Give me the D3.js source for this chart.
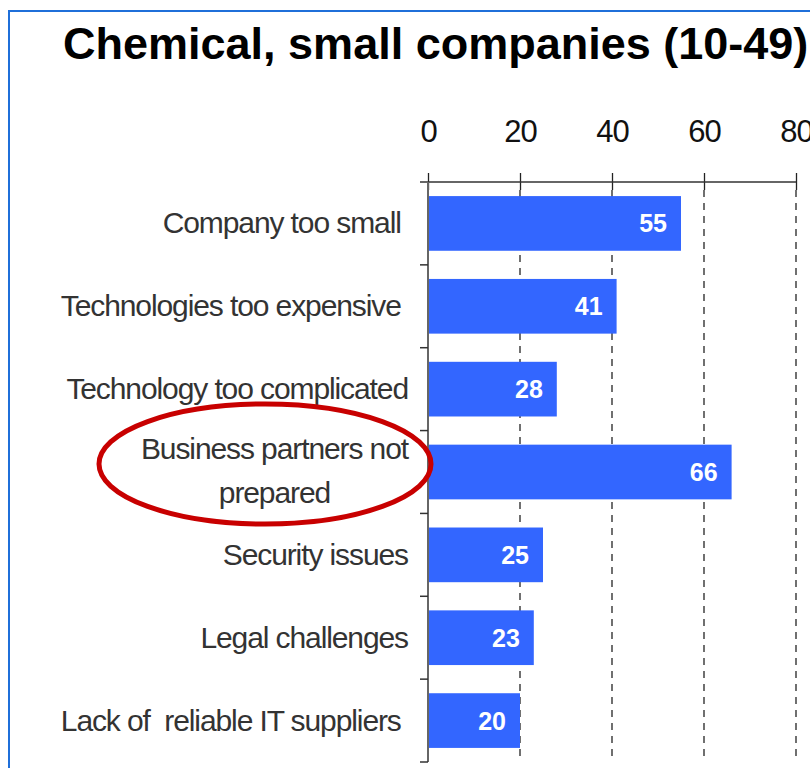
<!DOCTYPE html>
<html>
<head>
<meta charset="utf-8">
<script src="https://cdn.jsdelivr.net/npm/d3@7/dist/d3.min.js"></script>
<style>
  html, body { margin: 0; padding: 0; background: #fff; overflow: hidden; }
  svg { display: block; }
</style>
</head>
<body>
<script>
// Obstacles reported by small chemical companies (10-49 employees), % of firms
const categories = [
  "Company too small",
  "Technologies too expensive",
  "Technology too complicated",
  "Business partners not prepared",
  "Security issues",
  "Legal challenges",
  "Lack of reliable IT suppliers"
];
const labelLines = [
  ["Company too small\u00a0"],
  ["Technologies too expensive\u00a0"],
  ["Technology too complicated"],
  ["Business partners not", "prepared"],
  ["Security issues"],
  ["Legal challenges"],
  ["Lack of\u00a0 reliable IT suppliers\u00a0"]
];
const values = [55, 41, 28, 66, 25, 23, 20];
const tickValues = [0, 20, 40, 60, 80];
const highlighted = "Business partners not prepared";
const titleText = "Chemical, small companies (10-49)";

const W = 810, H = 768;
const FONT = "'Liberation Sans', Arial, sans-serif";
const svg = d3.select("body").append("svg").attr("width", W).attr("height", H);

// outer frame
svg.append("rect")
  .attr("x", 9).attr("y", 11).attr("width", 900).attr("height", 900)
  .attr("fill", "none").attr("stroke", "#1f6fd9").attr("stroke-width", 2);

// title
svg.append("text")
  .attr("x", 63).attr("y", 59)
  .attr("font-family", FONT)
  .attr("font-weight", "bold").attr("font-size", 45)
  .attr("fill", "#000")
  .text(titleText);

const x = d3.scaleLinear().domain([0, 80]).range([428, 796]);
const y = d3.scaleBand().domain(categories).range([182, 762])
  .paddingInner(0.34).paddingOuter(0.17);

// dashed gridlines
svg.append("g").selectAll("line")
  .data(tickValues.filter(d => d > 0))
  .join("line")
  .attr("x1", d => x(d)).attr("x2", d => x(d))
  .attr("y1", 190).attr("y2", 760)
  .attr("stroke", "#111").attr("stroke-width", 1.2)
  .attr("stroke-dasharray", "7,6");

// bars
svg.append("g").selectAll("rect")
  .data(categories)
  .join("rect")
  .attr("x", x(0))
  .attr("y", d => y(d))
  .attr("width", (d, i) => x(values[i]) - x(0))
  .attr("height", y.bandwidth())
  .attr("fill", "#3366ff");

// value labels
svg.append("g").selectAll("text")
  .data(categories)
  .join("text")
  .attr("x", (d, i) => x(values[i]) - 14)
  .attr("y", d => y(d) + y.bandwidth() / 2 + 9)
  .attr("text-anchor", "end")
  .attr("font-family", FONT)
  .attr("font-weight", "bold").attr("font-size", 25)
  .attr("fill", "#fff")
  .text((d, i) => values[i]);

// top axis
const xAxis = d3.axisTop(x).tickValues(tickValues).tickSize(9).tickPadding(0);
const gx = svg.append("g").attr("transform", "translate(0,182)").call(xAxis);
gx.select(".domain").remove();
gx.selectAll(".tick line").attr("y2", -9).attr("y1", 8).attr("stroke", "#222").attr("stroke-width", 1.3);
gx.selectAll(".tick text")
  .attr("y", -40)
  .attr("font-family", FONT)
  .attr("font-size", 31).attr("fill", "#111")
  .attr("letter-spacing", -1);
svg.append("line")
  .attr("x1", 420).attr("x2", x(80)).attr("y1", 182).attr("y2", 182)
  .attr("stroke", "#333").attr("stroke-width", 1.5);

// left category axis
const step = y.step();
const bounds = categories.map((d, i) => 182 + step * (i + 1));
svg.append("line")
  .attr("x1", x(0)).attr("x2", x(0)).attr("y1", 182).attr("y2", 762)
  .attr("stroke", "#666").attr("stroke-width", 2);
svg.append("g").selectAll("line")
  .data(bounds)
  .join("line")
  .attr("x1", 420).attr("x2", x(0))
  .attr("y1", d => d).attr("y2", d => d)
  .attr("stroke", "#333").attr("stroke-width", 1.5);

// category labels
const labelG = svg.append("g")
  .attr("font-family", FONT)
  .attr("font-size", 30).attr("fill", "#333")
  .attr("letter-spacing", -1.1);
categories.forEach((c, i) => {
  const lines = labelLines[i];
  const cy = y(c) + y.bandwidth() / 2;
  if (lines.length === 1) {
    labelG.append("text")
      .attr("x", 408).attr("y", cy + 10)
      .attr("text-anchor", "end")
      .text(lines[0]);
  } else {
    const first = labelG.append("text")
      .attr("x", 408).attr("y", cy - 13)
      .attr("text-anchor", "end")
      .text(lines[0]);
    const w = first.node().getComputedTextLength();
    labelG.append("text")
      .attr("x", 408 - w / 2).attr("y", cy + 31)
      .attr("text-anchor", "middle")
      .text(lines[1]);
  }
});

// highlight ellipse around the key obstacle
svg.append("ellipse")
  .attr("cx", 265)
  .attr("cy", y(highlighted) + y.bandwidth() / 2 - 8)
  .attr("rx", 166).attr("ry", 60)
  .attr("fill", "none").attr("stroke", "#c80000").attr("stroke-width", 5);
</script>
</body>
</html>
